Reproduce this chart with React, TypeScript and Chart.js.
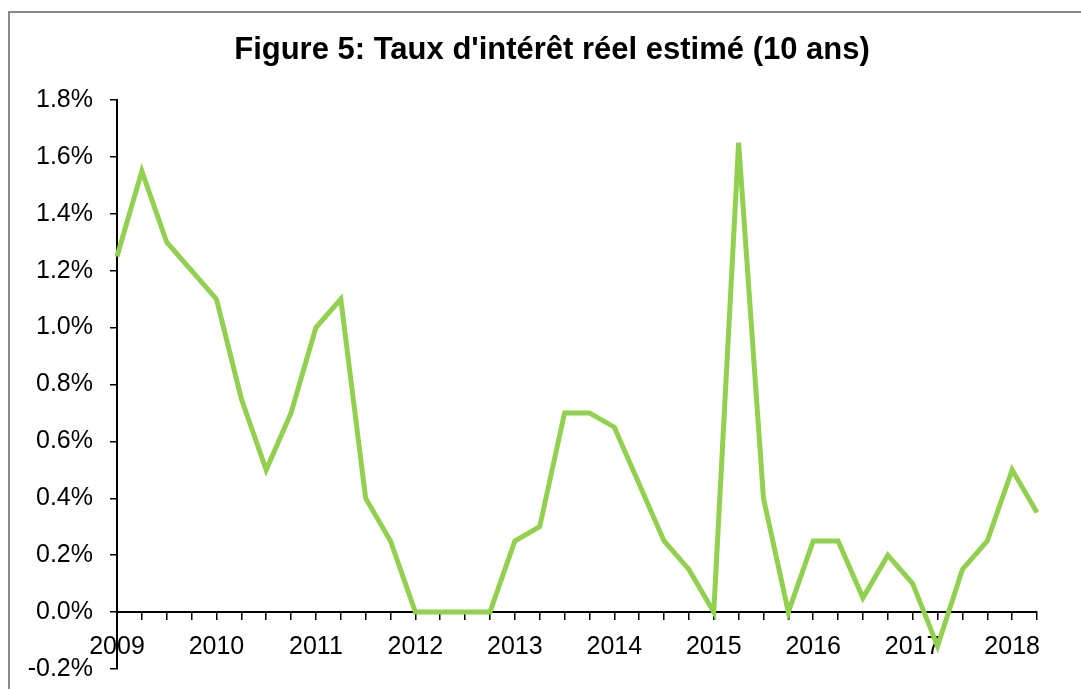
import React, { useEffect, useRef } from "react";
import { Chart, registerables } from "chart.js";

Chart.register(...registerables);

const TITLE = "Figure 5: Taux d'intérêt réel estimé (10 ans)";

const quarters: string[] = [
  "2009 T1", "2009 T2", "2009 T3", "2009 T4",
  "2010 T1", "2010 T2", "2010 T3", "2010 T4",
  "2011 T1", "2011 T2", "2011 T3", "2011 T4",
  "2012 T1", "2012 T2", "2012 T3", "2012 T4",
  "2013 T1", "2013 T2", "2013 T3", "2013 T4",
  "2014 T1", "2014 T2", "2014 T3", "2014 T4",
  "2015 T1", "2015 T2", "2015 T3", "2015 T4",
  "2016 T1", "2016 T2", "2016 T3", "2016 T4",
  "2017 T1", "2017 T2", "2017 T3", "2017 T4",
  "2018 T1", "2018 T2",
];

const yearLabels: string[] = [
  "2009", "2010", "2011", "2012", "2013", "2014", "2015", "2016", "2017", "2018",
];

const realRate: number[] = [
  1.25, 1.55, 1.3, 1.2,
  1.1, 0.75, 0.5, 0.7,
  1.0, 1.1, 0.4, 0.25,
  0.0, 0.0, 0.0, 0.0,
  0.25, 0.3, 0.7, 0.7,
  0.65, 0.45, 0.25, 0.15,
  0.0, 1.65, 0.4, 0.0,
  0.25, 0.25, 0.05, 0.2,
  0.1, -0.12, 0.15, 0.25,
  0.5, 0.35,
];

const yTicks: number[] = [-0.2, 0, 0.2, 0.4, 0.6, 0.8, 1.0, 1.2, 1.4, 1.6, 1.8];

const FONT = "'Liberation Sans', Arial, sans-serif";

const titlePlugin = {
  id: "customTitle",
  afterDraw(chart: any) {
    const ctx = chart.ctx;
    ctx.save();
    ctx.font = `bold 31px ${FONT}`;
    ctx.fillStyle = "#000";
    ctx.textAlign = "center";
    ctx.textBaseline = "alphabetic";
    ctx.fillText(TITLE, 552, 59);
    ctx.restore();
  },
};

export default function App() {
  const canvasRef = useRef<HTMLCanvasElement | null>(null);

  useEffect(() => {
    document.body.style.margin = "0";
    const canvas = canvasRef.current;
    if (!canvas) return;
    const chart = new Chart(canvas, {
      type: "line",
      data: {
        labels: quarters,
        datasets: [
          {
            label: "Taux réel",
            data: realRate,
            borderColor: "#92D050",
            backgroundColor: "#92D050",
            borderWidth: 5,
            pointRadius: 0,
            tension: 0,
            borderJoinStyle: "miter",
          },
        ],
      },
      options: {
        responsive: false,
        animation: false,
        layout: { padding: { left: 0, right: 44, top: 100, bottom: 0 } },
        plugins: {
          legend: { display: false },
          tooltip: { enabled: false },
          title: { display: false },
        },
        scales: {
          x: {
            type: "category",
            position: { y: 0 },
            offset: false,
            afterFit: (scale: any) => {
              scale.height = 0;
            },
            border: { display: true, color: "#000", width: 2 },
            grid: {
              display: true,
              drawOnChartArea: false,
              drawTicks: true,
              tickLength: 7,
              color: "#000",
              lineWidth: 1.5,
            },
            ticks: {
              autoSkip: false,
              maxRotation: 0,
              minRotation: 0,
              padding: 13,
              color: "#000",
              font: { family: FONT, size: 25 },
              callback: (_v: any, i: number) =>
                i % 4 === 0 ? yearLabels[i / 4] : "",
            },
          },
          y: {
            min: -0.2,
            max: 1.8,
            afterFit: (scale: any) => {
              scale.width = 117;
            },
            afterBuildTicks: (scale: any) => {
              scale.ticks = yTicks.map((v) => ({ value: v }));
            },
            border: { display: true, color: "#000", width: 2 },
            grid: {
              display: true,
              drawOnChartArea: false,
              drawTicks: true,
              tickLength: 7,
              color: "#000",
              lineWidth: 1.5,
            },
            ticks: {
              padding: 17,
              color: "#000",
              font: { family: FONT, size: 25 },
              callback: (v: any) => Number(v).toFixed(1) + "%",
            },
          },
        },
      },
      plugins: [titlePlugin],
    });
    return () => chart.destroy();
  }, []);

  return (
    <div
      style={{
        position: "absolute",
        left: 0,
        top: 0,
        width: 1081,
        height: 689,
        overflow: "hidden",
        background: "#fff",
      }}
    >
      <div
        style={{
          position: "absolute",
          left: 8,
          top: 11,
          width: 2000,
          height: 2000,
          borderLeft: "2px solid #8a8a8a",
          borderTop: "2px solid #8a8a8a",
        }}
      />
      <canvas
        ref={canvasRef}
        width={1081}
        height={701}
        style={{ position: "absolute", left: 0, top: 0 }}
      />
    </div>
  );
}
